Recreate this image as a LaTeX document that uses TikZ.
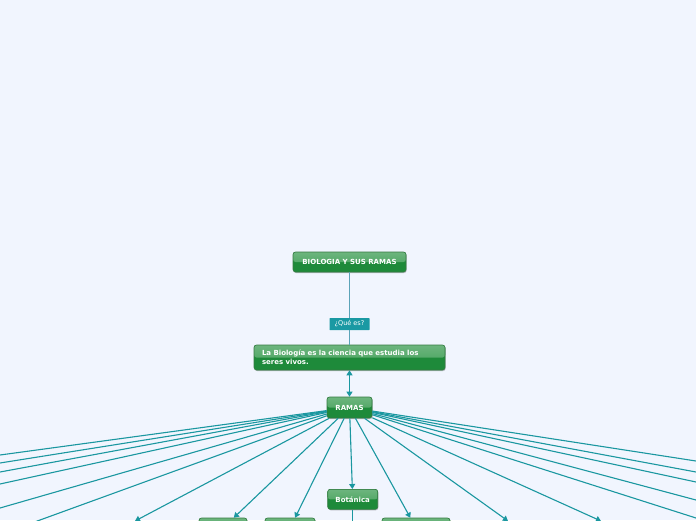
\documentclass[tikz,border=0pt]{standalone}
\usepackage{fontspec}
\setmainfont{DejaVu Sans}
\usetikzlibrary{arrows.meta,calc,shadows}
\definecolor{bgc}{HTML}{F1F5FE}
\definecolor{linec}{HTML}{1A97A0}
\definecolor{toplinec}{HTML}{5BA3B8}
\definecolor{lblc}{HTML}{1A99A3}
\definecolor{ndark}{HTML}{1E8A3A}
\definecolor{nlight}{HTML}{6DB57E}
\definecolor{nmid}{HTML}{3E9E55}
\definecolor{nborder}{HTML}{357A42}
\tikzset{
  mnode/.style={draw=nborder, line width=0.6pt, rounded corners=2.5pt, fill=ndark,
    text=white, font=\bfseries\fontsize{7}{9}\selectfont, inner sep=2pt,
    drop shadow={shadow xshift=0.6pt, shadow yshift=-1pt, opacity=0.25, fill=black},
    path picture={\fill[top color=nlight, bottom color=nmid]
      (path picture bounding box.north west) rectangle (path picture bounding box.east);}},
  lbl/.style={fill=lblc, text=white, font=\fontsize{6.5}{8}\selectfont, inner sep=0pt,
    minimum width=40pt, minimum height=12pt, rounded corners=0.5pt},
  conn/.style={draw=linec, line width=1.1pt, -{Triangle[length=5pt,width=6pt]}},
  plainconn/.style={draw=linec, line width=1.1pt},
  topconn/.style={draw=toplinec, line width=0.9pt}
}
\begin{document}
\begin{tikzpicture}[x=1pt,y=-1pt]
\useasboundingbox (0,0) rectangle (696,520);
\fill[bgc] (0,0) rectangle (696,520);

\node[mnode, minimum width=113pt, minimum height=20pt] (bio) at (349.5,262) {BIOLOGIA Y SUS RAMAS};
\node[lbl] (q) at (349.5,324) {¿Qué es?};
\node[mnode, minimum width=191pt, minimum height=25pt, text width=175pt, align=left,
  inner xsep=8pt] (def) at (349.5,357.5) {La Biología es la ciencia que estudia los\\seres vivos.};
\node[mnode, minimum width=45pt, minimum height=21pt] (ramas) at (349.5,407.5) {RAMAS};
\node[mnode, minimum width=50pt, minimum height=20pt] (bot) at (352.7,499.3) {Botánica};

\node[mnode, minimum width=48pt, minimum height=20pt] (n1) at (223,528) {};
\node[mnode, minimum width=50pt, minimum height=20pt] (n2) at (290,528) {};
\node[mnode, minimum width=68pt, minimum height=20pt] (n3) at (416,528) {};

\draw[topconn] (bio) -- (q);
\draw[topconn] (q) -- (def);
\draw[draw=linec, line width=1.1pt, {Triangle[length=5pt,width=6pt]}-{Triangle[length=5pt,width=6pt]}] (def) -- (ramas);

% left side
\coordinate (L1) at ($(ramas.center)!1.08!(0,455)$);
\coordinate (L2) at ($(ramas.center)!1.08!(0,463)$);
\coordinate (L3) at ($(ramas.center)!1.08!(0,472)$);
\coordinate (L4) at ($(ramas.center)!1.08!(0,484)$);
\coordinate (L5) at ($(ramas.center)!1.08!(0,508)$);
\coordinate (L6) at ($(ramas.center)!1.12!(40,520)$);
\coordinate (L7) at (135,521);
% right side
\coordinate (R1) at ($(ramas.center)!1.08!(696,461)$);
\coordinate (R2) at ($(ramas.center)!1.08!(696,472)$);
\coordinate (R3) at ($(ramas.center)!1.08!(696,482)$);
\coordinate (R4) at ($(ramas.center)!1.08!(696,500)$);
\coordinate (R5) at ($(ramas.center)!1.08!(696,518)$);
\coordinate (R6) at (508,521);
\coordinate (R7) at (601,521);
\coordinate (B1) at (352.7,540);

\foreach \t in {L1,L2,L3,L4,L5,L6,L7,R1,R2,R3,R4,R5,R6,R7}
  \draw[conn] (ramas) -- (\t);
\draw[conn] (ramas) -- (n1);
\draw[conn] (ramas) -- (n2);
\draw[conn] (ramas) -- (n3);
\draw[conn] (ramas) -- (bot);
\draw[plainconn] (bot) -- (B1);
\end{tikzpicture}
\end{document}
